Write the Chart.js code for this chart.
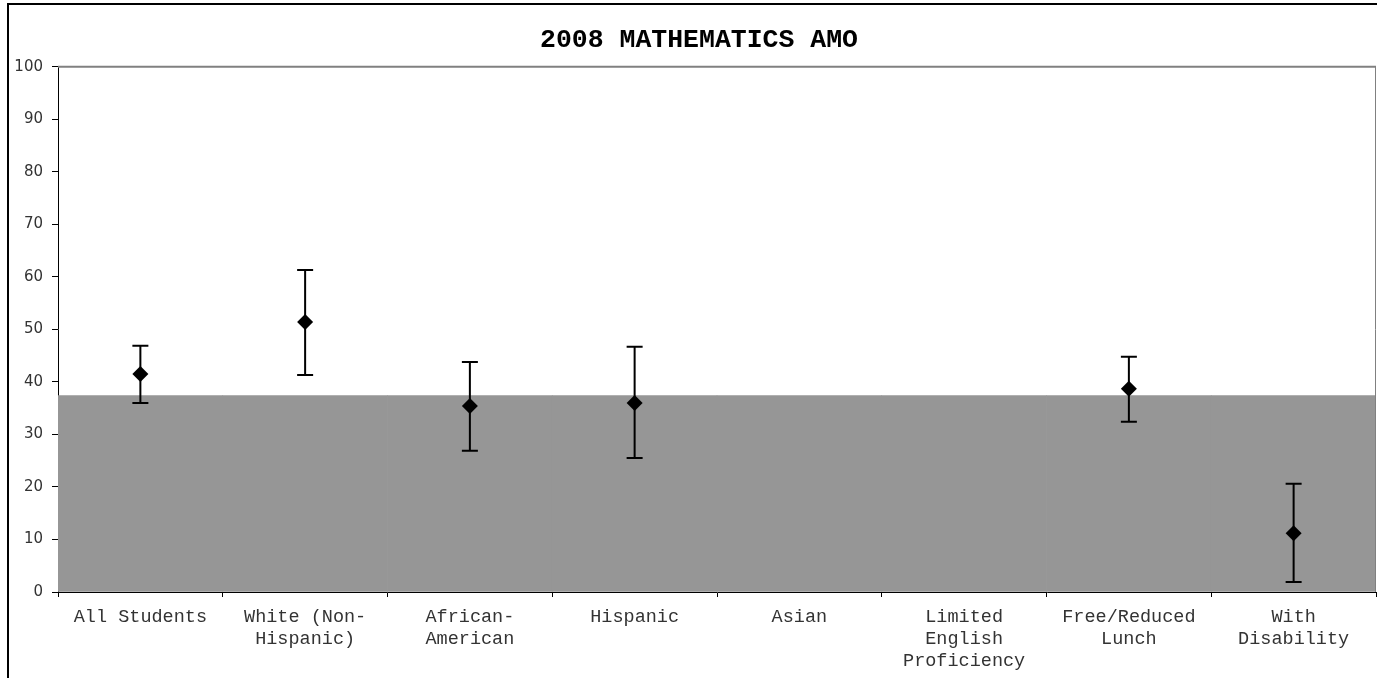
<!DOCTYPE html>
<html>
<head>
<meta charset="utf-8">
<script src="https://cdn.jsdelivr.net/npm/chart.js@4/dist/chart.umd.min.js"></script>
<style>
  html, body { margin: 0; padding: 0; background: #fff; overflow: hidden; }
  #wrap { position: relative; width: 1377px; height: 678px; }
  #frame {
    position: absolute; left: 7px; top: 3px; width: 1400px; height: 800px;
    border-top: 2px solid #000; border-left: 2px solid #000;
  }
  #chart { position: absolute; left: 0; top: 0; }
</style>
</head>
<body>
<div id="wrap">
  <div id="frame"></div>
  <canvas id="chart" width="1377" height="678"></canvas>
</div>
<script>
  /* ---------- data ---------- */
  const groups = [
    "All Students",
    ["White (Non-", "Hispanic)"],
    ["African-", "American"],
    "Hispanic",
    "Asian",
    ["Limited", "English", "Proficiency"],
    ["Free/Reduced", "Lunch"],
    ["With", "Disability"],
  ];
  const scores = [41.5, 51.4, 35.4, 36.0, null, null, 38.7, 11.2];
  const upper  = [46.9, 61.3, 43.8, 46.7, null, null, 44.8, 20.6];
  const lower  = [36.0, 41.3, 26.9, 25.5, null, null, 32.4, 1.9];
  const amoTarget = 37.4;
  const yTicks = [0, 10, 20, 30, 40, 50, 60, 70, 80, 90, 100];

  const MONO = "'Liberation Mono', 'Courier New', monospace";
  const SANS = "'DejaVu Sans', Verdana, sans-serif";
  Chart.defaults.color = "#000";
  Chart.defaults.font.family = MONO;

  // error bars (drawn just before the diamonds)
  const errorBars = {
    id: "errorBars",
    beforeDatasetDraw(chart, args) {
      if (args.index !== 1) return;
      const { ctx } = chart;
      const x = chart.scales.x, y = chart.scales.y;
      ctx.save();
      ctx.strokeStyle = "#000";
      ctx.lineWidth = 2;
      scores.forEach((v, i) => {
        if (v === null) return;
        const px = x.getPixelForValue(i);
        const yt = y.getPixelForValue(upper[i]);
        const yb = y.getPixelForValue(lower[i]);
        ctx.beginPath();
        ctx.moveTo(px, yt); ctx.lineTo(px, yb);
        ctx.moveTo(px - 8, yt); ctx.lineTo(px + 8, yt);
        ctx.moveTo(px - 8, yb); ctx.lineTo(px + 8, yb);
        ctx.stroke();
      });
      ctx.restore();
    },
  };

  // gray plot-area edges (top and right)
  const plotFrame = {
    id: "plotFrame",
    afterDatasetsDraw(chart) {
      const { ctx, chartArea: a } = chart;
      ctx.save();
      ctx.strokeStyle = "#808080";
      ctx.lineWidth = 2;
      ctx.beginPath();
      ctx.moveTo(a.left, a.top); ctx.lineTo(a.right, a.top);
      ctx.stroke();
      ctx.lineWidth = 1;
      ctx.beginPath();
      ctx.moveTo(a.right - 0.5, a.top); ctx.lineTo(a.right - 0.5, a.bottom);
      ctx.stroke();
      ctx.restore();
    },
  };

  new Chart(document.getElementById("chart"), {
    type: "bar",
    data: {
      labels: groups,
      datasets: [
        {
          type: "bar",
          label: "AMO",
          data: groups.map(() => amoTarget),
          backgroundColor: "#969696",
          borderWidth: 0,
          barPercentage: 1,
          categoryPercentage: 1,
          order: 2,
        },
        {
          type: "line",
          label: "Score",
          data: scores,
          showLine: false,
          pointStyle: "rectRot",
          pointRadius: 8,
          pointBackgroundColor: "#000",
          pointBorderColor: "#000",
          pointBorderWidth: 0,
          order: 1,
        },
      ],
    },
    options: {
      responsive: false,
      animation: false,
      layout: { autoPadding: false, padding: { left: 22, right: 1, top: 0, bottom: 0 } },
      plugins: {
        legend: { display: false },
        tooltip: { enabled: false },
        title: {
          display: true,
          text: "2008 MATHEMATICS AMO",
          color: "#000",
          font: { family: MONO, size: 26.5, weight: "bold", lineHeight: 1.2 },
          padding: { top: 24, bottom: 11 },
        },
      },
      scales: {
        x: {
          offset: true,
          grid: {
            offset: true,
            drawOnChartArea: false,
            drawTicks: true,
            tickLength: 5,
            color: "#000",
          },
          border: { color: "#000", width: 1 },
          ticks: {
            maxRotation: 0,
            autoSkip: false,
            padding: 9,
            color: "#333",
            font: { family: MONO, size: 18.5, lineHeight: 1.19 },
          },
          afterFit(s) {
            s.height = 86;
            s.paddingLeft = 0;
            s.paddingRight = 0;
          },
        },
        y: {
          min: 0,
          max: 100,
          afterBuildTicks(s) { s.ticks = yTicks.map((v) => ({ value: v })); },
          grid: {
            drawOnChartArea: false,
            drawTicks: true,
            tickLength: 6,
            color: "#000",
          },
          border: { color: "#000", width: 1 },
          ticks: {
            padding: 9,
            color: "#333",
            font: { family: SANS, size: 15 },
          },
          afterFit(s) {
            s.width = 36;
            // labels reach left of the narrow box; don't clip them
            s._computeLabelArea = () => null;
          },
        },
      },
    },
    plugins: [errorBars, plotFrame],
  });
</script>
</body>
</html>
